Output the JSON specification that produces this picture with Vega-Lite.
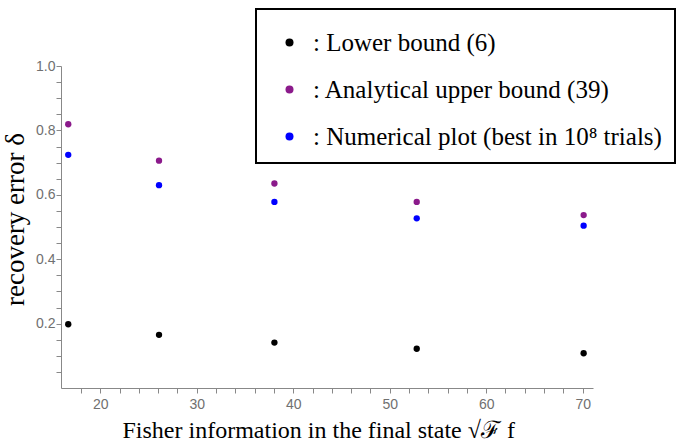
{
  "$schema": "https://vega.github.io/schema/vega-lite/v6.json",
  "width": 532,
  "height": 322,
  "autosize": {"type": "none"},
  "padding": {"left": 61, "top": 66, "right": 86, "bottom": 57},
  "background": "white",
  "config": {"view": {"stroke": null}, "legend": {"strokeWidth": 2}},
  "data": {
    "values": [
      {"x": 16.68, "delta": 0.198, "series": "Lower bound (6)"},
      {"x": 26.09, "delta": 0.165, "series": "Lower bound (6)"},
      {"x": 38.05, "delta": 0.141, "series": "Lower bound (6)"},
      {"x": 52.8, "delta": 0.122, "series": "Lower bound (6)"},
      {"x": 70.1, "delta": 0.108, "series": "Lower bound (6)"},
      {"x": 16.68, "delta": 0.819, "series": "Analytical upper bound (39)"},
      {"x": 26.09, "delta": 0.706, "series": "Analytical upper bound (39)"},
      {"x": 38.05, "delta": 0.635, "series": "Analytical upper bound (39)"},
      {"x": 52.8, "delta": 0.578, "series": "Analytical upper bound (39)"},
      {"x": 70.1, "delta": 0.537, "series": "Analytical upper bound (39)"},
      {"x": 16.68, "delta": 0.724, "series": "Numerical plot (best in 10⁸ trials)"},
      {"x": 26.09, "delta": 0.630, "series": "Numerical plot (best in 10⁸ trials)"},
      {"x": 38.05, "delta": 0.578, "series": "Numerical plot (best in 10⁸ trials)"},
      {"x": 52.8, "delta": 0.527, "series": "Numerical plot (best in 10⁸ trials)"},
      {"x": 70.1, "delta": 0.504, "series": "Numerical plot (best in 10⁸ trials)"}
    ]
  },
  "mark": {"type": "point", "filled": true, "size": 40, "opacity": 1, "shape": "circle"},
  "encoding": {
    "x": {
      "field": "x",
      "type": "quantitative",
      "scale": {"domain": [15.93, 71.07], "nice": false, "zero": false},
      "axis": {
        "title": "Fisher information in the final state   √ℱ f",
        "titleFont": "Liberation Serif",
        "titleFontSize": 24,
        "titleFontWeight": "normal",
        "titleColor": "black",
        "titlePadding": 7,
        "titleAnchor": "start",
        "titleAlign": "left",
        "titleX": 61,
        "values": [18,20,22,24,26,28,30,32,34,36,38,40,42,44,46,48,50,52,54,56,58,60,62,64,66,68,70],
        "labelExpr": "datum.value % 10 == 0 ? datum.label : ''",
        "labelFont": "Liberation Sans",
        "labelFontSize": 14,
        "labelColor": "#707070",
        "labelPadding": 4,
        "labelFlush": false,
        "labelOverlap": false,
        "tickSize": 5,
        "tickColor": "#888888",
        "domainColor": "#888888",
        "grid": false,
        "encode": {"ticks": {"update": {"y2": {"signal": "datum.value % 10 == 0 ? -5 : -2.5"}}}}
      }
    },
    "y": {
      "field": "delta",
      "type": "quantitative",
      "scale": {"domain": [0, 1], "nice": false},
      "axis": {
        "title": "recovery error δ",
        "titleFont": "Liberation Serif",
        "titleFontSize": 27,
        "titleFontWeight": "normal",
        "titleColor": "black",
        "titlePadding": 6,
        "titleY": 153,
        "values": [0.05,0.1,0.15,0.2,0.25,0.3,0.35,0.4,0.45,0.5,0.55,0.6,0.65,0.7,0.75,0.8,0.85,0.9,0.95,1.0],
        "labelExpr": "round(datum.value*100) % 20 == 0 ? format(datum.value, '.1f') : ''",
        "labelFont": "Liberation Sans",
        "labelFontSize": 14,
        "labelColor": "#707070",
        "labelPadding": 1,
        "labelFlush": false,
        "labelOverlap": false,
        "tickSize": 5,
        "tickColor": "#888888",
        "domainColor": "#888888",
        "grid": false,
        "encode": {"ticks": {"update": {"x2": {"signal": "round(datum.value*100) % 20 == 0 ? 5 : 2.5"}}}}
      }
    },
    "color": {
      "field": "series",
      "type": "nominal",
      "scale": {
        "domain": ["Lower bound (6)", "Analytical upper bound (39)", "Numerical plot (best in 10⁸ trials)"],
        "range": ["#000000", "#8b1a8b", "#0000ff"]
      },
      "legend": {
        "title": " ",
        "titleFontSize": 2,
        "titlePadding": 6,
        "orient": "none",
        "legendX": 195,
        "legendY": -57,
        "labelExpr": "': ' + datum.label",
        "labelFont": "Liberation Serif",
        "labelFontSize": 25,
        "labelColor": "black",
        "labelLimit": 600,
        "labelOffset": 11,
        "symbolType": "circle",
        "symbolSize": 64,
        "symbolStrokeWidth": 0,
        "symbolOffset": 8,
        "rowPadding": 21,
        "padding": 13,
        "fillColor": "white",
        "strokeColor": "black",
        "encode": {"legend": {"update": {"strokeWidth": {"value": 2}}}}
      }
    }
  }
}
